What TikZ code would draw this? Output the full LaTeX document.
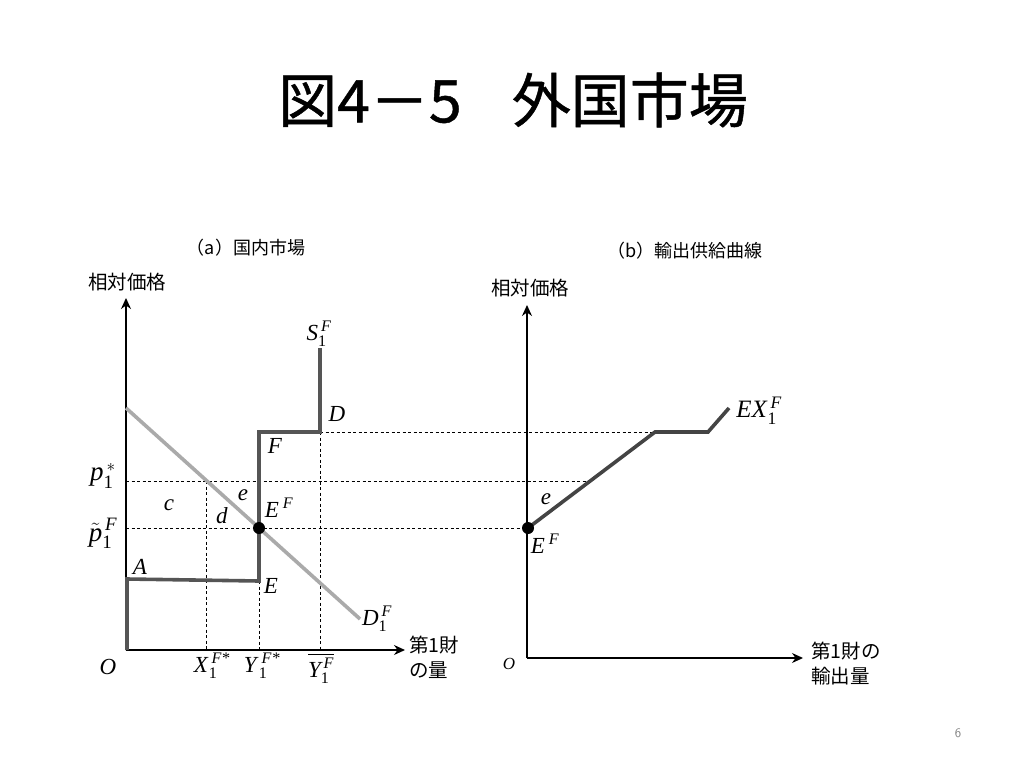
\documentclass[tikz,border=0pt]{standalone}
\usepackage{amsmath}
\usepackage{fontspec}
\setmainfont{Liberation Serif}
\newfontfamily\jp{Noto Sans CJK JP}
\newfontfamily\jpt{Noto Sans CJK JP}[FakeBold=0.8]
\usetikzlibrary{arrows.meta}
\definecolor{supgray}{HTML}{555555}
\definecolor{demgray}{HTML}{AAAAAA}
\definecolor{exgray}{HTML}{444444}
\newcommand\mv[3]{\textit{#1}$_{\textrm{#2}}^{\,\textit{#3}}$}
\begin{document}
\begin{tikzpicture}[x=1pt,y=-1pt,
  axisline/.style={line width=1.4pt,-{Stealth[length=11pt,width=10pt]}},
  supplyline/.style={line width=3.6pt,draw=supgray},
  demandline/.style={line width=3.6pt,draw=demgray},
  exline/.style={line width=3.6pt,draw=exgray},
  guide/.style={dashed,line width=0.8pt,dash pattern=on 3pt off 2.5pt},
  dotnode/.style={circle,fill=black,inner sep=0pt,minimum size=12pt},
  lbl/.style={font=\fontsize{23}{26}\selectfont,inner sep=0pt},
  plbl/.style={font=\fontsize{27}{30}\selectfont,inner sep=0pt},
  jl/.style={font=\jp\fontsize{19.5}{25}\selectfont,align=left,inner sep=0pt},
  sub/.style={font=\jp\fontsize{18}{20}\selectfont,inner sep=0pt}
]
\useasboundingbox (0,0) rectangle (1024,768);
\fill[white] (0,0) rectangle (1024,768);

% title
\node[font=\jpt\fontsize{59}{62}\selectfont,inner sep=0pt] (title) at (513,100) {図4－5\hspace{0.85em}外国市場};
\node[font=\fontsize{13}{15}\selectfont\sffamily,text=gray] (page) at (958,733) {6};

% ---------- panel (a)
\node[sub] (subA) at (246,248) {（a）国内市場};
\coordinate (Oa) at (126,650);
\coordinate (Ya) at (126,298);
\coordinate (Xa) at (405,650);
\draw[axisline] (Oa) -- (Ya);
\draw[axisline] (Oa) -- (Xa);
\node[jl] (ya) at (127,282) {相対価格};
\node[jl,anchor=west] (xa) at (409,657) {第1財\\の量};

% points
\coordinate (s0) at (127,650);
\coordinate (sA) at (127,579);
\coordinate (sE) at (259,581);
\coordinate (sF) at (259,432);
\coordinate (sD) at (320,432);
\coordinate (sTop) at (320,348);
\coordinate (d0) at (126,408);
\coordinate (d1) at (360,619);
\coordinate (pst) at (126,481);
\coordinate (ptl) at (126,528);
\coordinate (xX) at (206,481);
\coordinate (xXb) at (206,650);
\coordinate (xYb) at (259,650);
\coordinate (xBb) at (320,650);

% panel (b) points
\coordinate (Ob) at (527,658);
\coordinate (Yb) at (527,305);
\coordinate (Xb) at (803,658);
\coordinate (e0) at (528,528);
\coordinate (e1) at (655,432);
\coordinate (e2) at (708,432);
\coordinate (e3) at (729,408);
\coordinate (emid) at (591.5,481);

% guides
\draw[guide] (pst) -- (emid);
\draw[guide] (ptl) -- (e0);
\draw[guide] (sD) -- (e1);
\draw[guide] (xX) -- (xXb);
\draw[guide] (sE) -- (xYb);
\draw[guide] (sD) -- (xBb);

% curves
\draw[demandline] (d0) -- (d1);
\draw[supplyline,line join=miter] (s0) -- (sA) -- (sE) -- (sF) -- (sD) -- (sTop);
\node[dotnode] (EFa) at (259,528) {};

% labels (a)
\node[lbl] (lS) at (319,334) {\mv{S}{1}{F}};
\node[lbl] (lDd) at (377,619) {\mv{D}{1}{F}};
\node[lbl] (lD) at (337,414) {\textit{D}};
\node[lbl] (lF) at (275,446) {\textit{F}};
\node[lbl] (lE) at (271,586) {\textit{E}};
\node[lbl] (lA) at (140,567) {\textit{A}};
\node[lbl] (lEF) at (279,508) {\textit{E}\,$^{\textit{F}}$};
\node[lbl] (lc) at (169,505) {\textit{c}};
\node[lbl] (ld) at (222,516) {\textit{d}};
\node[lbl] (le) at (243,495) {\textit{e}};
\node[plbl] (lp) at (103,476) {\textit{p}$_{\textrm{1}}^{\,*}$};
\node[plbl] (lpt) at (103,533) {$\tilde{\textit{p}}_{\textrm{1}}^{\,\textit{F}}$};
\node[lbl] (lO) at (108,667) {\textit{O}};
\node[lbl] (lX) at (212,666) {\mv{X}{1}{F*}};
\node[lbl] (lY) at (262,666) {\mv{Y}{1}{F*}};
\node[lbl] (lYb) at (321,668) {$\overline{\textit{Y}_{\textrm{1}}^{\,\textit{F}}}$};

% ---------- panel (b)
\node[sub] (subB) at (685,251) {（b）輸出供給曲線};
\draw[axisline] (Ob) -- (Yb);
\draw[axisline] (Ob) -- (Xb);
\node[jl] (yb) at (530,288) {相対価格};
\node[jl,anchor=west] (xb) at (811,664) {第1財の\\輸出量};
\draw[exline,line join=miter] (e0) -- (e1) -- (e2) -- (e3);
\node[dotnode] (EFb) at (e0) {};
\node[lbl,font=\fontsize{25}{28}\selectfont] (lEX) at (759,411) {\textit{EX}$_{\textrm{1}}^{\,\textit{F}}$};
\node[lbl] (le2) at (546,499) {\textit{e}};
\node[lbl] (lEF2) at (545,544) {\textit{E}\,$^{\textit{F}}$};
\node[lbl,font=\fontsize{17}{20}\selectfont] (lO2) at (509,664) {\textit{O}};
\end{tikzpicture}
\end{document}
